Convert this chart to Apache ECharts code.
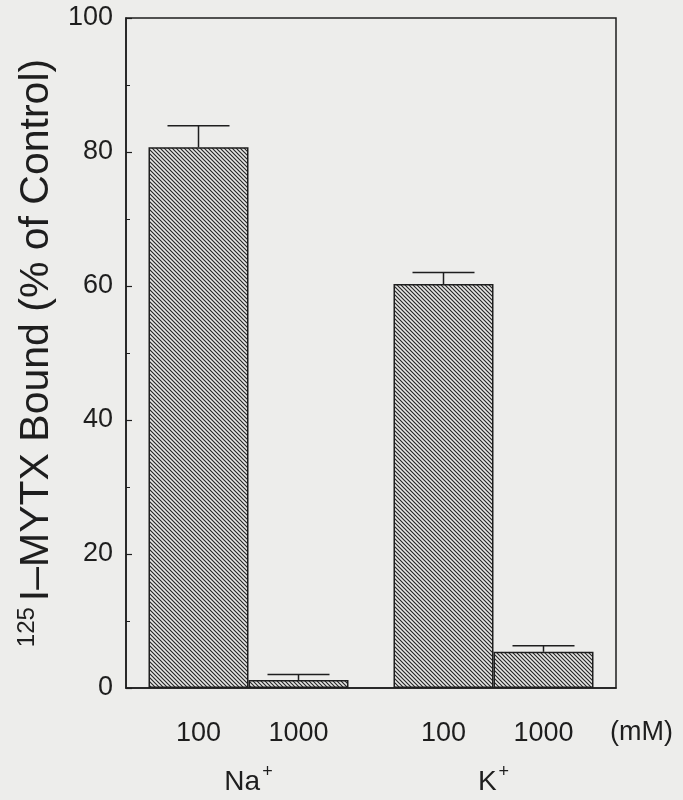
<!DOCTYPE html>
<html>
<head>
<meta charset="utf-8">
<script src="https://cdn.jsdelivr.net/npm/echarts@6/dist/echarts.min.js"></script>
<style>
html,body{margin:0;padding:0;background:#ededeb;}
#chart{width:683px;height:800px;}
</style>
</head>
<body>
<div id="chart"></div>
<script>
// ---- data ----
const ions = ['Na', 'K'];
const concLabels = ['100', '1000'];
const bound100 = [80.7, 60.3];
const bound1000 = [1.2, 5.4];
const err100 = [3.2, 1.7];
const err1000 = [0.8, 0.9];
const yTicks = [0, 20, 40, 60, 80, 100];

// ---- hatch pattern ----
function hatch() {
  const s = 4;
  const c = document.createElement('canvas');
  c.width = s; c.height = s;
  const g = c.getContext('2d');
  g.fillStyle = '#e6e6e4';
  g.fillRect(0, 0, s, s);
  g.strokeStyle = '#262626';
  g.lineWidth = 1.15;
  g.beginPath();
  g.moveTo(-1, -1); g.lineTo(s + 1, s + 1);
  g.moveTo(-1, s - 1); g.lineTo(1, s + 1);
  g.moveTo(s - 1, -1); g.lineTo(s + 1, 1);
  g.stroke();
  return c;
}
const pattern = { image: hatch(), repeat: 'repeat' };

const BAR_W = 100;
const CAP_HALF = 31;
const ink = '#1e1e1e';

function errorSeries(name, vals, errs, side) {
  return {
    type: 'custom',
    name: name,
    z: 5,
    data: vals.map((v, i) => [i, v, errs[i]]),
    encode: { x: 0, y: 1 },
    renderItem: function (params, api) {
      const i = api.value(0), v = api.value(1), e = api.value(2);
      const base = api.coord([i, v]);
      const top = api.coord([i, v + e]);
      const x = base[0] + side * BAR_W / 2;
      const st = { stroke: ink, lineWidth: 1.5 };
      return {
        type: 'group',
        children: [
          { type: 'line', shape: { x1: x, y1: base[1], x2: x, y2: top[1] }, style: st },
          { type: 'line', shape: { x1: x - CAP_HALF, y1: top[1], x2: x + CAP_HALF, y2: top[1] }, style: st }
        ]
      };
    }
  };
}

const chart = echarts.init(document.getElementById('chart'));
const font = '"Liberation Sans", Arial, Helvetica, sans-serif';
chart.setOption({
  backgroundColor: '#ededeb',
  animation: false,
  grid: { left: 126, right: 67, top: 18, bottom: 112, show: true, borderColor: ink, borderWidth: 1.5,
          backgroundColor: 'transparent', containLabel: false, outerBoundsMode: 'none' },
  xAxis: {
    type: 'category',
    data: ions,
    name: '(mM)',
    nameLocation: 'end',
    nameGap: -6,
    nameTextStyle: { fontFamily: font, fontSize: 27, color: ink, verticalAlign: 'top', align: 'left', padding: [31, 0, 0, 0] },
    axisLine: { lineStyle: { color: ink, width: 1.5 } },
    axisTick: { show: false },
    axisLabel: {
      margin: 31,
      fontFamily: font,
      color: ink,
      formatter: function (v) {
        return '{n|' + concLabels[0] + '}{n|' + concLabels[1] + '}\n{ion|' + v + '}{sup|+}';
      },
      rich: {
        n: { fontFamily: font, fontSize: 27, color: ink, width: BAR_W, align: 'center', lineHeight: 30 },
        ion: { fontFamily: font, fontSize: 28, color: ink, lineHeight: 47, verticalAlign: 'bottom' },
        sup: { fontFamily: font, fontSize: 18, color: ink, lineHeight: 47, verticalAlign: 'bottom', padding: [0, 0, 15, 2] }
      }
    }
  },
  yAxis: {
    type: 'value',
    min: 0, max: 100, interval: 20,
    name: '{sup|125}{t|I\u2013MYTX Bound (% of Control)}',
    nameLocation: 'middle',
    nameRotate: 90,
    nameGap: 68,
    nameTextStyle: {
      rich: {
        t: { fontFamily: font, fontSize: 41, color: ink, verticalAlign: 'bottom', lineHeight: 46 },
        sup: { fontFamily: font, fontSize: 24, color: ink, verticalAlign: 'bottom', lineHeight: 46, padding: [0, 6, 18, 0] }
      }
    },
    axisLine: { show: true, lineStyle: { color: ink, width: 1.5 } },
    axisTick: { show: true, inside: true, length: 6, lineStyle: { color: ink, width: 1.2 } },
    minorTick: { show: true, splitNumber: 2, length: 4, lineStyle: { color: ink, width: 1 } },
    splitLine: { show: false },
    axisLabel: { fontFamily: font, fontSize: 27, color: ink, margin: 13,
      formatter: function (v) { return yTicks.indexOf(v) >= 0 ? String(v) : ''; } }
  },
  series: [
    { type: 'bar', name: '100 mM', data: bound100, barWidth: BAR_W, barGap: '0%',
      itemStyle: { color: pattern, borderColor: ink, borderWidth: 1.5 } },
    { type: 'bar', name: '1000 mM', data: bound1000, barWidth: BAR_W, barGap: '0%',
      itemStyle: { color: pattern, borderColor: ink, borderWidth: 1.5 } },
    errorSeries('err100', bound100, err100, -1),
    errorSeries('err1000', bound1000, err1000, 1)
  ]
});
</script>
</body>
</html>
